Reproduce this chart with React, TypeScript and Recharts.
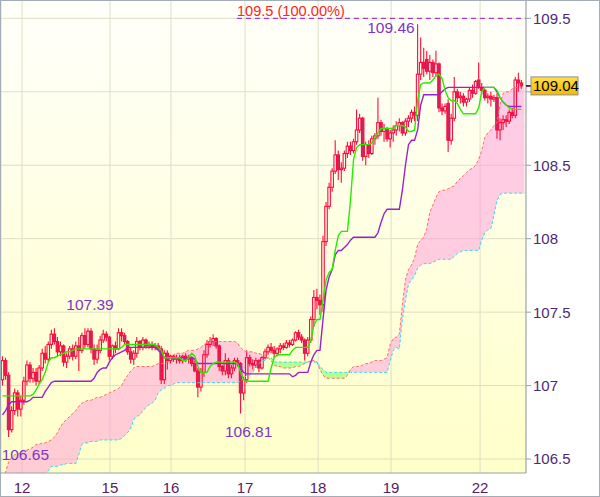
import React from "react";
import {
  ComposedChart,
  XAxis,
  YAxis,
  CartesianGrid,
  Area,
  Line,
  Bar,
  ReferenceLine,
  ReferenceDot,
} from "recharts";

// ---------- data (hourly candles) ----------
const opens = [
  107.04,107.17,107.07,106.70,106.83,106.95,106.84,106.90,107.03,107.14,
  107.05,107.09,107.03,107.12,107.22,107.18,107.28,107.35,107.30,107.23,
  107.27,107.16,107.20,107.25,107.20,107.27,107.24,107.34,107.28,107.37,
  107.25,107.18,107.24,107.31,107.35,107.33,107.20,107.27,107.25,107.36,
  107.34,107.30,107.23,107.18,107.22,107.30,107.26,107.31,107.27,107.28,
  107.26,107.27,107.25,107.04,107.22,107.17,107.20,107.18,107.19,107.17,
  107.20,107.18,107.19,107.15,107.10,106.99,107.09,107.21,107.28,107.30,
  107.32,107.27,107.13,107.10,107.17,107.08,107.12,107.17,107.15,106.95,
  107.04,107.19,107.15,107.14,107.17,107.12,107.19,107.23,107.26,107.24,
  107.22,107.25,107.27,107.26,107.29,107.28,107.31,107.36,107.33,107.31,
  107.22,107.31,107.45,107.60,107.58,107.55,107.98,108.22,108.35,108.46,
  108.57,108.47,108.48,108.58,108.63,108.60,108.66,108.74,108.82,108.56,
  108.64,108.58,108.68,108.70,108.79,108.73,108.75,108.68,108.72,108.74,
  108.77,108.79,108.72,108.80,108.82,108.86,108.84,109.12,109.20,109.22,
  109.14,109.20,109.13,109.19,108.89,108.87,108.92,108.67,108.82,109.00,
  108.96,108.97,108.93,108.95,109.01,108.99,109.08,109.03,109.01,108.96,
  108.97,108.95,108.96,108.74,108.79,108.81,108.80,108.86,108.84,109.08,109.06,
];
const highs = [
  107.20,107.19,107.09,106.86,106.98,106.97,106.93,107.06,107.17,107.16,
  107.12,107.12,107.14,107.25,107.27,107.30,107.38,107.39,107.33,107.30,
  107.28,107.22,107.27,107.28,107.30,107.33,107.36,107.39,107.39,107.39,
  107.28,107.28,107.34,107.38,107.37,107.34,107.28,107.30,107.39,107.39,
  107.36,107.31,107.26,107.24,107.33,107.31,107.33,107.32,107.30,107.30,
  107.29,107.29,107.27,107.24,107.24,107.21,107.21,107.21,107.21,107.21,
  107.22,107.21,107.20,107.17,107.12,107.12,107.24,107.31,107.33,107.35,
  107.33,107.28,107.14,107.22,107.19,107.14,107.19,107.19,107.16,107.06,
  107.24,107.21,107.18,107.19,107.18,107.20,107.25,107.28,107.29,107.27,
  107.26,107.29,107.29,107.31,107.31,107.32,107.37,107.38,107.35,107.32,
  107.33,107.47,107.65,107.66,107.62,108.02,108.25,108.38,108.48,108.67,
  108.60,108.52,108.60,108.66,108.66,108.68,108.88,108.85,108.83,108.66,
  108.67,108.70,108.72,108.96,108.81,108.78,108.76,108.74,108.77,108.80,
  108.82,108.80,108.82,108.84,108.88,108.90,109.46,109.37,109.30,109.28,
  109.25,109.22,109.28,109.20,108.92,108.92,108.95,108.85,109.10,109.02,
  109.00,108.99,108.96,109.03,109.05,109.08,109.20,109.06,109.02,108.99,
  109.00,108.98,108.99,108.82,108.84,108.84,108.88,108.89,109.10,109.13,109.08,
];
const lows = [
  107.00,107.04,106.65,106.68,106.80,106.79,106.79,106.87,107.00,107.02,
  107.02,107.00,107.01,107.10,107.15,107.16,107.25,107.28,107.20,107.20,
  107.13,107.12,107.18,107.17,107.18,107.10,107.22,107.25,107.26,107.22,
  107.14,107.15,107.22,107.29,107.30,107.17,107.18,107.22,107.24,107.30,
  107.28,107.21,107.15,107.14,107.19,107.24,107.24,107.25,107.25,107.24,
  107.24,107.24,107.01,107.01,107.11,107.15,107.16,107.15,107.15,107.15,
  107.16,107.15,107.13,107.09,106.92,106.96,107.06,107.19,107.26,107.27,
  107.25,107.10,107.07,107.07,107.05,107.05,107.10,107.13,106.81,106.90,
  107.02,107.13,107.11,107.12,107.09,107.11,107.18,107.21,107.22,107.19,
  107.20,107.22,107.24,107.25,107.26,107.27,107.30,107.31,107.29,107.17,
  107.20,107.29,107.40,107.52,107.48,107.50,107.95,108.20,108.32,108.44,
  108.40,108.38,108.46,108.55,108.57,108.58,108.64,108.72,108.53,108.50,
  108.55,108.57,108.64,108.68,108.70,108.66,108.66,108.62,108.66,108.70,
  108.73,108.70,108.70,108.76,108.79,108.80,108.80,109.08,109.10,109.12,
  109.08,109.10,109.10,108.86,108.84,108.85,108.59,108.64,108.80,108.93,
  108.92,108.90,108.90,108.93,108.96,108.98,109.02,108.98,108.94,108.92,
  108.90,108.93,108.68,108.67,108.74,108.76,108.78,108.82,108.82,109.00,109.02,
];
const closes = [
  107.17,107.07,106.70,106.83,106.95,106.84,106.90,107.03,107.14,107.05,
  107.09,107.03,107.12,107.22,107.18,107.28,107.35,107.30,107.23,107.27,
  107.16,107.20,107.25,107.20,107.27,107.24,107.34,107.28,107.37,107.25,
  107.18,107.24,107.31,107.35,107.33,107.20,107.27,107.25,107.36,107.34,
  107.30,107.23,107.18,107.22,107.30,107.26,107.31,107.27,107.28,107.26,
  107.27,107.25,107.04,107.22,107.17,107.20,107.18,107.19,107.17,107.20,
  107.18,107.19,107.15,107.10,106.99,107.09,107.21,107.28,107.30,107.32,
  107.27,107.13,107.10,107.17,107.08,107.12,107.17,107.15,106.95,107.04,
  107.19,107.15,107.14,107.17,107.12,107.19,107.23,107.26,107.24,107.22,
  107.25,107.27,107.26,107.29,107.28,107.31,107.36,107.33,107.31,107.22,
  107.31,107.45,107.60,107.58,107.55,107.98,108.22,108.35,108.46,108.57,
  108.47,108.48,108.58,108.63,108.60,108.66,108.74,108.82,108.56,108.64,
  108.58,108.68,108.70,108.79,108.73,108.75,108.68,108.72,108.74,108.77,
  108.79,108.72,108.80,108.82,108.86,108.84,109.12,109.20,109.16,109.14,
  109.20,109.13,109.19,108.89,108.87,108.90,108.67,108.82,109.00,108.96,
  108.97,108.93,108.95,109.01,108.99,109.07,109.03,109.01,108.96,108.97,
  108.95,108.96,108.74,108.79,108.81,108.80,108.86,108.84,109.08,109.06,109.04,
];

// Ichimoku: conversion line (green) and base line (purple)
const tenkan = [
  106.93,106.93,106.93,106.93,106.93,106.93,106.93,106.93,106.93,106.93,
  106.94,106.97,107.01,107.04,107.09,107.16,107.19,107.19,107.20,107.21,
  107.22,107.23,107.23,107.24,107.25,107.25,107.25,107.25,107.25,107.25,
  107.25,107.25,107.25,107.25,107.25,107.25,107.25,107.25,107.25,107.26,
  107.28,107.28,107.28,107.28,107.28,107.28,107.28,107.28,107.28,107.28,
  107.28,107.26,107.24,107.19,107.19,107.19,107.19,107.19,107.19,107.17,
  107.17,107.19,107.22,107.20,107.13,107.09,107.09,107.09,107.13,107.15,
  107.16,107.16,107.16,107.16,107.16,107.16,107.16,107.15,107.09,107.04,
  107.03,107.03,107.03,107.03,107.03,107.03,107.03,107.03,107.12,107.19,
  107.21,107.21,107.21,107.21,107.21,107.24,107.26,107.26,107.26,107.26,
  107.26,107.31,107.41,107.45,107.45,107.58,107.72,107.77,107.79,107.92,
  108.02,108.05,108.05,108.05,108.26,108.54,108.62,108.64,108.64,108.64,
  108.64,108.65,108.69,108.72,108.75,108.75,108.75,108.75,108.75,108.77,
  108.77,108.77,108.76,108.73,108.73,108.74,108.94,109.05,109.06,109.06,
  109.06,109.08,109.11,109.12,109.09,109.01,108.96,108.94,108.94,108.92,
  108.88,108.85,108.85,108.85,108.85,108.85,108.89,109.00,109.03,109.03,
  109.03,109.03,109.01,108.96,108.93,108.91,108.89,108.88,108.88,108.88,108.88,null,
];
const kijun = [
  106.80,106.83,106.87,106.89,106.89,106.89,106.89,106.89,106.89,106.90,
  106.92,106.92,106.92,106.92,106.96,106.99,107.02,107.03,107.03,107.03,
  107.03,107.03,107.03,107.03,107.03,107.03,107.03,107.03,107.03,107.03,
  107.05,107.09,107.11,107.12,107.12,107.16,107.19,107.21,107.22,107.23,
  107.24,107.26,107.26,107.26,107.26,107.26,107.26,107.26,107.26,107.26,
  107.26,107.24,107.22,107.19,107.19,107.19,107.19,107.19,107.19,107.19,
  107.19,107.19,107.19,107.18,107.15,107.15,107.15,107.15,107.15,107.15,
  107.15,107.15,107.15,107.15,107.15,107.15,107.15,107.15,107.12,107.09,
  107.08,107.08,107.08,107.08,107.08,107.08,107.08,107.08,107.08,107.08,
  107.08,107.08,107.08,107.08,107.08,107.06,107.07,107.09,107.09,107.09,
  107.09,107.16,107.21,107.24,107.24,107.45,107.65,107.74,107.79,107.89,
  107.92,107.92,107.94,107.96,107.99,108.01,108.01,108.01,108.01,108.01,
  108.01,108.01,108.01,108.04,108.11,108.17,108.20,108.20,108.20,108.20,
  108.20,108.33,108.50,108.64,108.67,108.67,108.74,108.91,108.98,108.98,
  108.98,108.98,108.98,108.98,109.00,109.02,109.03,109.03,109.03,109.03,
  109.03,109.03,109.03,109.03,109.03,109.03,109.03,109.03,109.03,109.03,
  109.03,109.03,109.00,108.96,108.93,108.91,108.90,108.90,108.90,108.90,108.90,null,
];
// Cloud spans
const spanA = [
  106.37,106.41,106.48,106.51,106.53,106.53,106.55,106.56,106.56,106.57,
  106.58,106.60,106.60,106.61,106.61,106.62,106.63,106.65,106.68,106.72,
  106.75,106.77,106.79,106.81,106.83,106.86,106.88,106.89,106.90,106.90,
  106.91,106.92,106.92,106.93,106.94,106.95,106.96,106.97,106.98,107.00,
  107.04,107.07,107.10,107.12,107.13,107.13,107.13,107.13,107.13,107.13,
  107.14,107.15,107.15,107.15,107.16,107.19,107.21,107.22,107.22,107.22,
  107.23,107.24,107.24,107.24,107.25,107.26,107.28,107.29,107.30,107.30,
  107.30,107.30,107.30,107.30,107.30,107.30,107.30,107.29,107.26,107.24,
  107.23,107.23,107.23,107.22,107.22,107.21,107.21,107.19,107.17,107.14,
  107.13,107.13,107.12,107.12,107.12,107.12,107.13,107.13,107.14,107.15,
  107.16,107.17,107.17,107.16,107.11,107.07,107.05,107.05,107.05,107.05,
  107.05,107.05,107.05,107.07,107.11,107.13,107.13,107.13,107.14,107.15,
  107.15,107.16,107.17,107.17,107.17,107.18,107.19,107.28,107.32,107.33,
  107.35,107.55,107.72,107.79,107.82,107.87,107.96,107.99,108.01,108.07,
  108.18,108.23,108.28,108.32,108.33,108.33,108.34,108.35,108.36,108.39,
  108.41,108.43,108.45,108.47,108.48,108.50,108.54,108.60,108.69,108.72,
  108.74,108.77,108.79,108.91,108.99,109.00,109.00,109.02,109.03,109.03,109.03,109.03,
];
const spanB = [
  106.28,106.28,106.29,106.30,106.30,106.31,106.32,106.33,106.34,106.35,
  106.36,106.37,106.38,106.39,106.40,106.42,106.45,106.45,106.45,106.46,
  106.46,106.47,106.47,106.47,106.47,106.53,106.60,106.61,106.61,106.62,
  106.62,106.62,106.63,106.63,106.63,106.63,106.63,106.63,106.63,106.64,
  106.66,106.68,106.71,106.77,106.79,106.80,106.83,106.85,106.87,106.88,
  106.90,106.95,106.97,106.98,107.00,107.00,107.01,107.02,107.02,107.02,
  107.02,107.02,107.02,107.02,107.02,107.02,107.02,107.02,107.02,107.02,
  107.02,107.02,107.02,107.02,107.02,107.02,107.02,107.02,107.03,107.05,
  107.07,107.07,107.09,107.13,107.15,107.17,107.17,107.19,107.19,107.16,
  107.16,107.16,107.16,107.16,107.16,107.16,107.16,107.16,107.16,107.16,
  107.16,107.16,107.16,107.16,107.13,107.11,107.09,107.09,107.09,107.09,
  107.09,107.09,107.09,107.09,107.09,107.09,107.09,107.09,107.09,107.09,
  107.09,107.09,107.09,107.09,107.09,107.09,107.09,107.17,107.24,107.26,
  107.25,107.45,107.58,107.69,107.72,107.75,107.80,107.82,107.83,107.83,
  107.83,107.84,107.85,107.86,107.86,107.86,107.86,107.86,107.88,107.90,
  107.91,107.92,107.92,107.92,107.92,107.92,107.92,107.99,108.04,108.06,
  108.07,108.16,108.26,108.30,108.31,108.31,108.31,108.31,108.31,108.31,108.31,108.31,
];

const xTickPos = [6.4, 35.2, 55.2, 79.45, 103.4, 127.3, 156.45];
const xTickLabels = ["12", "15", "16", "17", "18", "19", "22"];
const yTicks = [106.5, 107, 107.5, 108, 108.5, 109, 109.5];
const hiddenTickLabels = [109]; // covered by the last-price box in the reference
const lastPrice = 109.04;
const targetLevel = 109.5;
const targetStart = 76.8;
const targetLabel = "109.5 (100.00%)";
const annotations = [
  { i: 136, v: 109.46, text: "109.46", place: "left" },
  { i: 29, v: 107.39, text: "107.39", place: "top" },
  { i: 78, v: 106.81, text: "106.81", place: "bottom" },
  { i: 2, v: 106.65, text: "106.65", place: "bottomLeft" },
];

// ---------- table built for the library ----------
const data = spanA.map((a, i) => {
  const b = spanB[i];
  const has = i < closes.length;
  return {
    i,
    o: has ? opens[i] : null,
    h: has ? highs[i] : null,
    l: has ? lows[i] : null,
    c: has ? closes[i] : null,
    range: has ? [lows[i], highs[i]] : null,
    spanA: a,
    spanB: b,
    pink: [b, Math.max(a, b)],
    green: [a, Math.max(a, b)],
    tenkan: tenkan[i],
    kijun: kijun[i],
  };
});

const FONT = "'Liberation Sans', Arial, sans-serif";
const CANDLE_STROKE = "#ff0a3c";
const CANDLE_DOWN = "#c42a66";

function Candle(props: any) {
  const { x, y, width, height, payload } = props;
  if (!payload || payload.o == null || !isFinite(y) || !isFinite(height)) return null;
  const top = height >= 0 ? y : y + height;
  const hh = Math.abs(height);
  const ppu = hh / (payload.h - payload.l);
  const cx = x + width / 2;
  const yO = top + (payload.h - payload.o) * ppu;
  const yC = top + (payload.h - payload.c) * ppu;
  const up = payload.c >= payload.o;
  const bTop = Math.min(yO, yC);
  const bH = Math.max(Math.abs(yC - yO), 1);
  return (
    <g>
      <line x1={cx} x2={cx} y1={top} y2={bTop} stroke={CANDLE_STROKE} strokeWidth={1.1} />
      <line x1={cx} x2={cx} y1={bTop + bH} y2={top + hh} stroke={CANDLE_STROKE} strokeWidth={1.1} />
      <rect
        x={cx - 1.25}
        y={bTop}
        width={2.5}
        height={bH}
        fill={up ? "none" : CANDLE_DOWN}
        stroke={CANDLE_STROKE}
        strokeWidth={1.1}
      />
    </g>
  );
}

function YTick(props: any) {
  const { x, y, payload } = props;
  const v = payload.value;
  if (v === lastPrice) {
    return (
      <g>
        <line x1={x - 7} x2={x - 2} y1={y} y2={y} stroke="#330033" strokeWidth={1.5} />
        <rect x={x - 2} y={y - 9} width={47} height={18} fill="url(#priceGrad)" stroke="#8f8f8f" strokeWidth={1} />
        <text x={x} y={y} dy="0.36em" fontSize={15} fontFamily={FONT} fill="#000">
          {String(v)}
        </text>
      </g>
    );
  }
  if (hiddenTickLabels.includes(v)) return <g />;
  return (
    <text x={x} y={y} dy="0.36em" textAnchor="start" fontSize={15} fontFamily={FONT} fill="#4a2a78">
      {String(v)}
    </text>
  );
}

function annotationShape(a: any) {
  return (p: any) => {
    const { cx, cy } = p;
    let tx = cx, ty = cy, anchor = "middle";
    if (a.place === "left") { tx = cx - 3; ty = cy + 9; anchor = "end"; }
    if (a.place === "top") { tx = cx - 1; ty = cy - 18; }
    if (a.place === "bottom") { tx = cx + 8; ty = cy + 23; }
    if (a.place === "bottomLeft") { tx = cx - 7; ty = cy + 23; anchor = "start"; }
    return (
      <text x={tx} y={ty} textAnchor={anchor} fontSize={15.5} fontFamily={FONT} fill="#7d35c8">
        {a.text}
      </text>
    );
  };
}

export default function App() {
  return (
    <div
      style={{
        position: "absolute",
        left: 0,
        top: 0,
        width: 600,
        height: 497,
        boxSizing: "border-box",
        border: "1px solid #a3adb8",
        background: "#ffffff",
      }}
    >
      <ComposedChart width={598} height={495} data={data} margin={{ top: 0, right: 0, bottom: 0, left: 0 }}>
        <defs>
          <linearGradient id="bgGrad" x1="0" y1="0" x2="0" y2="1">
            <stop offset="0%" stopColor="#fffffb" />
            <stop offset="100%" stopColor="#ffffc9" />
          </linearGradient>
          <linearGradient id="priceGrad" x1="0" y1="0" x2="0" y2="1">
            <stop offset="0%" stopColor="#ffe14a" />
            <stop offset="100%" stopColor="#f4b800" />
          </linearGradient>
        </defs>
        <CartesianGrid
          stroke="#dedec6"
          fill="url(#bgGrad)"
          fillOpacity={1}
          horizontalValues={yTicks}
        />
        <XAxis
          type="number"
          dataKey="i"
          domain={[-0.5, 171.5]}
          ticks={xTickPos}
          interval={0}
          tickFormatter={(v: number) => xTickLabels[xTickPos.indexOf(v)] ?? ""}
          tick={{ fill: "#5a1a5e", fontSize: 15, fontFamily: FONT }}
          tickLine={false}
          tickSize={6}
          tickMargin={3}
          height={23}
          axisLine={{ stroke: "#95a3ad" }}
        />
        <YAxis
          orientation="right"
          type="number"
          domain={[106.405, 109.618]}
          allowDataOverflow
          ticks={[106.5, 107, 107.5, 108, 108.5, 109, lastPrice, 109.5]}
          interval={0}
          width={73}
          tickSize={5}
          tickMargin={2}
          tickLine={{ stroke: "#95a3ad" }}
          axisLine={{ stroke: "#95a3ad" }}
          tick={<YTick />}
        />
        <Area dataKey="pink" type="linear" stroke="none" fill="#ff99dd" fillOpacity={0.5} isAnimationActive={false} />
        <Area dataKey="green" type="linear" stroke="none" fill="#88ff66" fillOpacity={0.6} isAnimationActive={false} />
        <Line dataKey="spanA" type="linear" stroke="#ff6a6a" strokeWidth={1} strokeDasharray="3 2" dot={false} isAnimationActive={false} />
        <Line dataKey="spanB" type="linear" stroke="#33ddee" strokeWidth={1} strokeDasharray="3 2" dot={false} isAnimationActive={false} />
        <Bar dataKey="range" barSize={3} shape={<Candle />} isAnimationActive={false} />
        <Line dataKey="kijun" type="linear" stroke="#9922cc" strokeWidth={1.4} dot={false} isAnimationActive={false} />
        <Line dataKey="tenkan" type="linear" stroke="#22ee00" strokeWidth={1.4} dot={false} isAnimationActive={false} />
        <ReferenceLine
          segment={[{ x: targetStart, y: targetLevel }, { x: 171.5, y: targetLevel }]}
          stroke="#9911dd"
          strokeDasharray="5 4"
          strokeWidth={1}
        />
        <ReferenceDot
          x={targetStart}
          y={targetLevel}
          r={0}
          shape={(p: any) => (
            <text x={p.cx} y={p.cy - 2} fontSize={14.6} fontFamily={FONT} fill="#ff2222">
              {targetLabel}
            </text>
          )}
        />
        {annotations.map((a) => (
          <ReferenceDot key={a.text} x={a.i} y={a.v} r={0} shape={annotationShape(a)} />
        ))}
      </ComposedChart>
    </div>
  );
}
